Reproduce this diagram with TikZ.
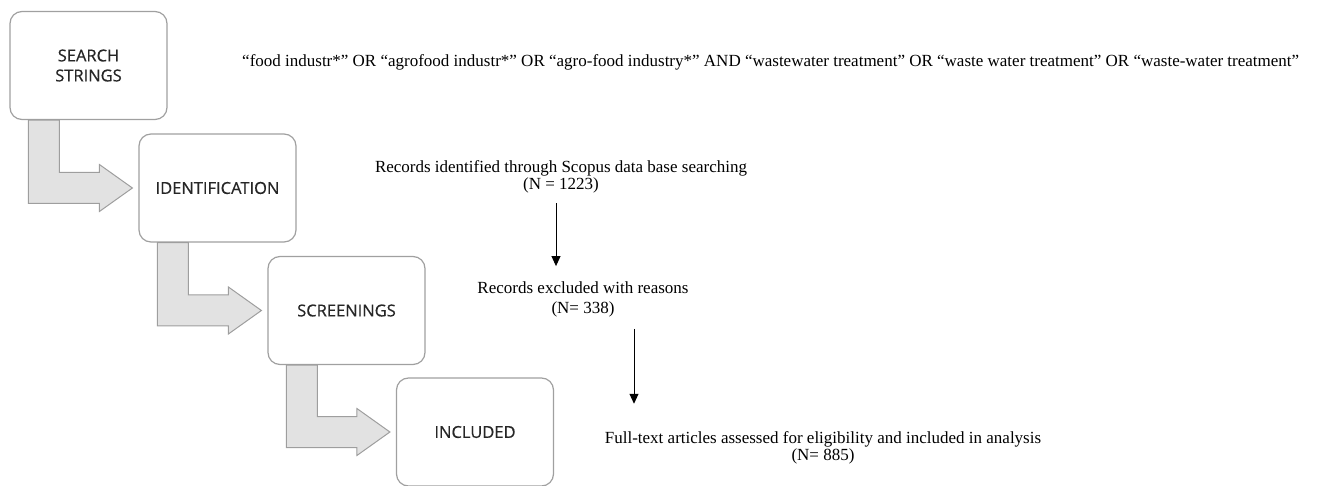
\documentclass[tikz,border=0pt]{standalone}
\usepackage{fontspec}
\setmainfont{Liberation Serif}
\newfontfamily\stagefont[FakeBold=0.5]{Open Sans}
\usetikzlibrary{calc,arrows.meta}
\definecolor{boxline}{HTML}{A0A0A0}
\definecolor{arrowfill}{HTML}{E2E2E2}
\definecolor{arrowline}{HTML}{9E9E9E}
\definecolor{stagetext}{HTML}{262626}
% block arrow from the foot of one stage box to the side of the next
\newcommand{\stagearrow}[2]{%
 \draw[stagearrow] let \p1=(#1.south west), \p2=(#2.west) in
  (\x1+19,\y1) -- (\x1+50,\y1) -- (\x1+50,\y2+15.5) -- (\x2-39,\y2+15.5)
  -- (\x2-39,\y2+23.5) -- (\x2-6,\y2) -- (\x2-39,\y2-23.5)
  -- (\x2-39,\y2-15.5) -- (\x1+19,\y2-15.5) -- cycle;}

\begin{document}
\begin{tikzpicture}[x=1pt,y=-1pt,
 stage/.style={draw=boxline,line width=1.2pt,fill=white,rounded corners=12pt,
  minimum width=157pt,minimum height=108pt,align=center,text=stagetext,
  font=\stagefont\fontsize{16.5}{20}\selectfont},
 stagearrow/.style={draw=arrowline,line width=1pt,fill=arrowfill},
 rec/.style={align=center,inner sep=0pt,font=\fontsize{17}{15}\selectfont},
 flow/.style={line width=0.9pt,-{Triangle[width=9pt,length=10pt]}}]
 \useasboundingbox (0,0) rectangle (1320,486);
 \node[stage] (sea) at (88.5,65.5) {SEARCH\\STRINGS};
 \node[stage] (ide) at (217.5,188) {IDENTIFICATION};
 \node[stage] (scr) at (346.5,310.5) {SCREENINGS};
 \node[stage] (inc) at (475,432) {INCLUDED};
 \stagearrow{sea}{ide}
 \stagearrow{ide}{scr}
 \stagearrow{scr}{inc}
 \node[rec,anchor=west] (qry) at (242,62) {“food industr*” OR “agrofood industr*” OR “agro-food industry*” AND “wastewater treatment” OR “waste water treatment” OR “waste-water treatment”};
 \node[rec] (rid) at (561,177) {Records identified through Scopus data base searching\\(N = 1223)};
 \node[rec] (rex) at (583,299) {Records excluded with reasons\\[5pt](N= 338)};
 \node[rec] (fta) at (823,448) {Full-text articles assessed for eligibility and included in analysis\\(N= 885)};
 \draw[flow] ($(rid.south)+(-5,10)$) -- ($(rid.south |- rex.north)+(-5,-15)$);
 \draw[flow] ($(rex.south)+(51,12)$) -- ($(rex.south |- fta.north)+(51,-28)$);
\end{tikzpicture}
\end{document}
